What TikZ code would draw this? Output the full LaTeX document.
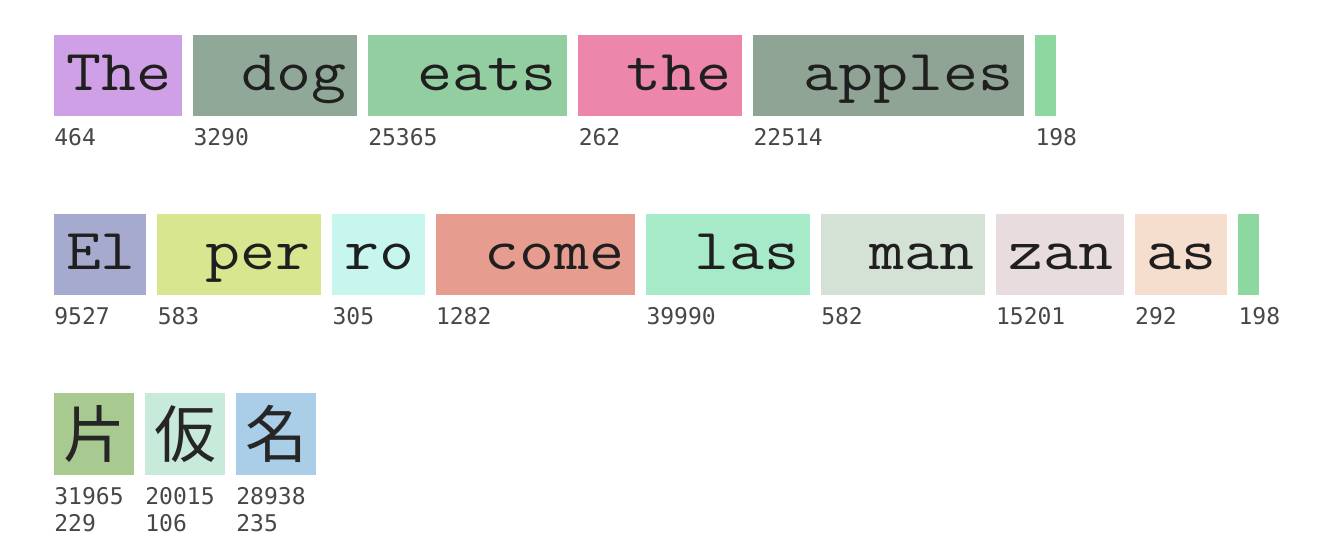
\documentclass[tikz,border=0pt]{standalone}
\usepackage{fontspec}
\newfontfamily\tokfont[FakeStretch=1.17]{Latin Modern Mono}
\newfontfamily\idfont{DejaVu Sans Mono}
\newfontfamily\cjkfont{Noto Sans CJK JP}
\usetikzlibrary{positioning}

% token colours
\definecolor{tkThe}{HTML}{CFA0E6}
\definecolor{tkDog}{HTML}{8FA898}
\definecolor{tkEats}{HTML}{92CEA0}
\definecolor{tkThe2}{HTML}{EC86AA}
\definecolor{tkApples}{HTML}{8FA494}
\definecolor{tkEnd}{HTML}{8CD8A0}
\definecolor{tkEl}{HTML}{A6AACE}
\definecolor{tkPer}{HTML}{D8E690}
\definecolor{tkRo}{HTML}{C6F6EE}
\definecolor{tkCome}{HTML}{E69C8E}
\definecolor{tkLas}{HTML}{A6EACA}
\definecolor{tkMan}{HTML}{D4E2D6}
\definecolor{tkZan}{HTML}{E8DCDE}
\definecolor{tkAs}{HTML}{F6DECE}
\definecolor{tkKata}{HTML}{A8CA90}
\definecolor{tkKa}{HTML}{C8EADA}
\definecolor{tkNa}{HTML}{AACEE8}

\tikzset{
  tok/.style 2 args={fill=#1, text width=#2*17.85pt, align=right,
    inner xsep=5.25pt, inner ysep=0pt, outer sep=0pt,
    text height=27.5pt, text depth=13pt, text=black!88,
    font=\tokfont\fontsize{29}{30}\selectfont},
  kana/.style={fill=#1, minimum width=40pt, minimum height=41pt,
    inner sep=0pt, outer sep=0pt, text=black!85,
    font=\cjkfont\fontsize{31}{31}\selectfont},
  tid/.style={font=\idfont\fontsize{11.5}{13.5}\selectfont, text=black!72,
    inner sep=0pt, align=left}
}

\begin{document}
\begin{tikzpicture}[x=0.5pt, y=-0.5pt]
  \useasboundingbox (0,0) rectangle (1340,558);

  % English
  \coordinate (r1-0) at (43,75.5);
  \foreach \txt/\n/\col/\id [count=\i, remember=\i as \j (initially 0)] in
    {The/3/tkThe/464, ~dog/4/tkDog/3290, ~eats/5/tkEats/25365,
     ~the/4/tkThe2/262, ~apples/7/tkApples/22514, /0/tkEnd/198} {
    \node[tok={\col}{\n}, right=5.5pt of r1-\j] (r1-\i) {\txt};
    \node[tid, below right=6pt and 0pt of r1-\i.south west] (l1-\i) {\id};
  }

  % Spanish
  \coordinate (r2-0) at (43,254.5);
  \foreach \txt/\n/\col/\id [count=\i, remember=\i as \j (initially 0)] in
    {El/2/tkEl/9527, ~per/4/tkPer/583, ro/2/tkRo/305, ~come/5/tkCome/1282,
     ~las/4/tkLas/39990, ~man/4/tkMan/582, zan/3/tkZan/15201,
     as/2/tkAs/292, /0/tkEnd/198} {
    \node[tok={\col}{\n}, right=5.5pt of r2-\j] (r2-\i) {\txt};
    \node[tid, below right=6pt and 0pt of r2-\i.south west] (l2-\i) {\id};
  }

  % Japanese
  \coordinate (r3-0) at (43,434);
  \foreach \txt/\col/\id [count=\i, remember=\i as \j (initially 0)] in
    {片/tkKata/{31965\\229}, 仮/tkKa/{20015\\106}, 名/tkNa/{28938\\235}} {
    \node[kana=\col, right=5.5pt of r3-\j] (r3-\i) {\txt};
    \node[tid, below right=6pt and 0pt of r3-\i.south west] (l3-\i) {\id};
  }
\end{tikzpicture}
\end{document}
